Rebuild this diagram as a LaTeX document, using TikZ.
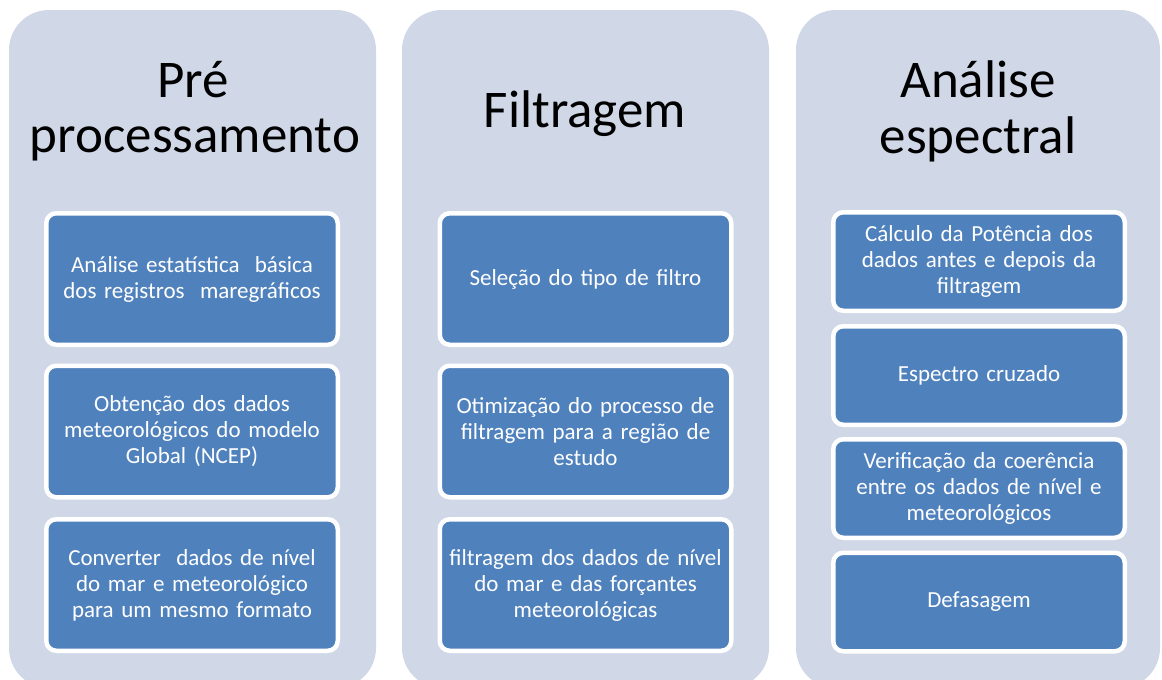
\documentclass[tikz,border=0pt]{standalone}
\usepackage{fontspec}
\setmainfont{Carlito}
\definecolor{panelfill}{RGB}{208,216,232}
\definecolor{boxblue}{RGB}{79,129,189}
\begin{document}
\begin{tikzpicture}[x=1pt,y=-1pt,
  panel/.style={fill=panelfill,draw=none,rounded corners=40pt},
  title/.style={anchor=base,inner sep=0pt,font=\fontsize{53}{56}\selectfont,text=black},
  stepbox/.style={draw=white,line width=4.5pt,fill=boxblue,rounded corners=10pt,
    minimum width=291.5pt,text width=285pt,align=center,text=white,inner sep=0pt,
    font=\fontsize{23}{26}\selectfont},
  tall/.style={minimum height=131.5pt},
  short/.style={minimum height=98.5pt}]
\useasboundingbox (0,0) rectangle (1162,680);
\begin{scope}
\clip (0,0) rectangle (1162,680);
\path[panel] (9,10) rectangle (376,688);
\path[panel] (402,10) rectangle (769,688);
\path[panel] (796,10) rectangle (1160,688);
\end{scope}
% titles
\node[title] (t1a) at (193,97) {Pré};
\node[title] (t1b) at (195,152) {processamento};
\node[title] (t2) at (585,127) {Filtragem};
\node[title] (t3a) at (978,97) {Análise};
\node[title] (t3b) at (978,153) {espectral};
% column 1
\node[stepbox,tall] (a1) at (192,279) {Análise estatística\ \ básica\\dos registros\ \ maregráficos};
\node[stepbox,tall] (a2) at (192,431.5) {Obtenção dos dados\\meteorológicos do modelo\\Global (NCEP)};
\node[stepbox,tall] (a3) at (192,585) {Converter\ \ dados de nível\\do mar e meteorológico\\para um mesmo formato};
% column 2
\node[stepbox,tall] (b1) at (585.5,279) {Seleção do tipo de filtro};
\node[stepbox,tall] (b2) at (585.5,431.5) {Otimização do processo de\\filtragem para a região de\\estudo};
\node[stepbox,tall] (b3) at (585.5,585) {filtragem dos dados de nível\\do mar e das forçantes\\meteorológicas};
% column 3
\node[stepbox,short] (c1) at (979,261.5) {Cálculo da Potência dos\\dados antes e depois da\\filtragem};
\node[stepbox,short] (c2) at (979,375.5) {Espectro cruzado};
\node[stepbox,short] (c3) at (979,488.5) {Verificação da coerência\\entre os dados de nível e\\meteorológicos};
\node[stepbox,short] (c4) at (979,602) {Defasagem};
\end{tikzpicture}
\end{document}
